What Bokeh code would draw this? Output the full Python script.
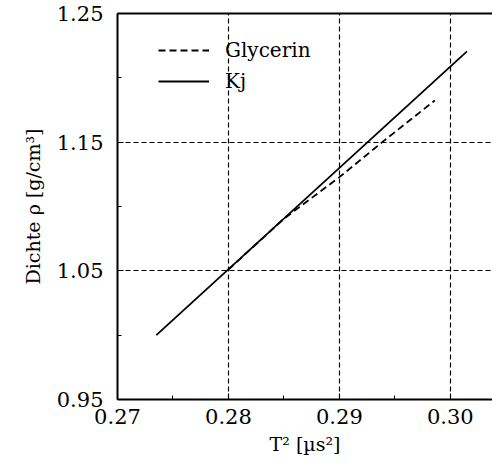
from bokeh.plotting import figure
from bokeh.models import (Range1d, FixedTicker, LinearAxis, Legend, LegendItem,
                          NumeralTickFormatter)
from bokeh.embed import file_html
from bokeh.resources import INLINE

# Data
kj_x = [0.2735, 0.3015]
kj_y = [1.000, 1.2205]
gly_x = [0.2800, 0.2850, 0.2900, 0.2940, 0.2986]
gly_y = [1.0510, 1.0905, 1.1228, 1.1510, 1.1824]

x_ticks = [0.27, 0.28, 0.29, 0.30]
x_minor = [0.275, 0.285, 0.295]
y_ticks = [0.95, 1.05, 1.15, 1.25]
y_minor = [1.00, 1.10, 1.20]

FONT = "DejaVu Serif"

p = figure(width=492, height=461, output_backend="svg", toolbar_location=None,
           x_range=Range1d(0.27, 0.3038), y_range=Range1d(0.95, 1.25),
           min_border_left=117, min_border_right=0, min_border_top=13,
           min_border_bottom=62)
p.outline_line_color = None
p.background_fill_color = "white"
p.border_fill_color = "white"

for ax, ticks, minor in ((p.xaxis[0], x_ticks, x_minor), (p.yaxis[0], y_ticks, y_minor)):
    ax.ticker = FixedTicker(ticks=ticks, minor_ticks=minor)
    ax.formatter = NumeralTickFormatter(format="0.00")
    ax.axis_line_width = 2
    ax.axis_line_color = "black"
    ax.major_tick_in = 6
    ax.major_tick_out = 0
    ax.minor_tick_in = 4
    ax.minor_tick_out = 0
    ax.major_tick_line_color = "black"
    ax.minor_tick_line_color = "black"
    ax.major_label_text_font = FONT
    ax.major_label_text_font_size = "21px"
    ax.major_label_text_color = "black"
    ax.axis_label_text_font = FONT
    ax.axis_label_text_font_style = "normal"
    ax.axis_label_text_color = "black"
    ax.axis_label_text_font_size = "19px"

p.xaxis.major_label_standoff = 9
p.yaxis.major_label_standoff = 14
p.xaxis.axis_label = "T\u00b2 [\u00b5s\u00b2]"
p.yaxis.axis_label = "Dichte \u03c1 [g/cm\u00b3]"
p.xaxis.axis_label_standoff = 6
p.yaxis.axis_label_standoff = 10

top = LinearAxis(ticker=FixedTicker(ticks=[]), major_label_text_font_size="0px",
                 axis_line_width=2, axis_line_color="black",
                 major_tick_line_color=None, minor_tick_line_color=None)
p.add_layout(top, "above")

p.xgrid.ticker = FixedTicker(ticks=x_ticks)
p.ygrid.ticker = FixedTicker(ticks=y_ticks)
for g in (p.xgrid[0], p.ygrid[0]):
    g.grid_line_color = "black"
    g.grid_line_dash = "5 3"
    g.grid_line_width = 1.2
    g.grid_line_alpha = 1.0

r_gly = p.line(gly_x, gly_y, line_color="black", line_width=1.8, line_dash="7 4")
r_kj = p.line(kj_x, kj_y, line_color="black", line_width=1.8)

legend = Legend(items=[LegendItem(label="Glycerin", renderers=[r_gly]),
                       LegendItem(label="Kj", renderers=[r_kj])],
                location=(41, 306), border_line_color=None,
                background_fill_alpha=0, padding=0, margin=0,
                glyph_width=51, glyph_height=22, label_height=22,
                label_standoff=16, spacing=7,
                label_text_font=FONT, label_text_font_size="20px",
                label_text_color="black")
p.add_layout(legend)

open("out.html", "w").write(file_html(p, INLINE))
